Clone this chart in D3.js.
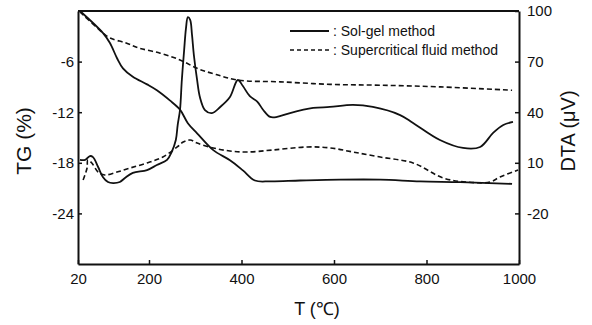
<!DOCTYPE html>
<html>
<head>
<meta charset="utf-8">
<script src="https://cdn.jsdelivr.net/npm/d3@7"></script>
<style>
  body { margin: 0; background: #fff; }
  svg { font-family: "Liberation Sans", Arial, sans-serif; }
</style>
</head>
<body>
<main></main>
<script>
// Temperature ticks (bottom axis) and the two y axes
const tempTicks = [20, 200, 400, 600, 800, 1000];
const tgTicks = [-6, -12, -18, -24];
const dtaTicks = [100, 70, 40, 10, -20];

const seriesNames = [": Sol-gel method", ": Supercritical fluid method"];

// TG curves, [T, TG %]
const solGelTG = [
  [25, 0], [83, -2.6], [101, -3.8], [119, -5.6], [134, -6.8], [159, -7.8],
  [195, -8.7], [217, -9.4], [245, -10.6], [267, -11.7], [284, -13.3],
  [304, -14.5], [339, -16.5], [375, -17.7], [403, -18.9], [429, -20.1],
  [462, -20.2], [527, -20.1], [613, -20.0], [700, -20.0], [786, -20.2],
  [873, -20.3], [985, -20.5]
];
const superTG = [
  [25, -0.1], [83, -2.6], [101, -3.2], [142, -3.8], [175, -4.4], [224, -5.0],
  [267, -5.8], [304, -6.8], [343, -7.5], [393, -8.2], [484, -8.4],
  [592, -8.7], [700, -8.8], [830, -9.0], [985, -9.4]
];

// DTA curves, [T, DTA uV]
const solGelDTA = [
  [25, 11.7], [38, 11.7], [50, 14.0], [58, 13.4], [71, 7.5], [83, 1.6],
  [96, -1.4], [109, -2.0], [126, -1.4], [139, 1.0], [159, 4.0], [195, 5.7],
  [217, 8.7], [239, 11.7], [249, 16.4], [258, 23.5], [262, 32.4], [267, 41.3],
  [271, 59.1], [276, 76.9], [280, 89.9], [284, 96.4], [289, 94.7], [293, 85.8],
  [297, 73.9], [304, 59.1], [310, 49.0], [321, 41.3], [336, 39.5], [354, 43.1],
  [375, 49.0], [392, 59.1], [403, 55.5], [418, 49.5], [434, 46.3], [447, 41.3],
  [462, 37.2], [477, 37.2], [505, 39.5], [555, 42.5], [591, 43.1], [641, 44.3],
  [684, 43.1], [743, 38.3], [771, 33.6], [829, 23.5], [879, 18.8], [916, 19.4],
  [944, 27.7], [966, 32.4], [987, 34.2]
];
const superDTA = [
  [33, -0.2], [43, 6.9], [45, 11.7], [55, 9.9], [71, 4.5], [88, 2.8],
  [119, 4.5], [152, 6.9], [195, 9.9], [230, 13.4], [261, 19.4], [274, 22.3],
  [289, 23.5], [304, 21.7], [339, 18.8], [375, 17.0], [412, 16.4], [468, 17.6],
  [542, 19.4], [592, 18.8], [641, 16.4], [700, 13.4], [771, 9.9], [836, 1.0],
  [887, -1.4], [937, -1.4], [959, 1.6], [998, 5.7]
];

const width = 592;
const height = 325;
const plotLeft = 78, plotRight = 519, plotTop = 11, plotBottom = 264;

const svg = d3
  .select("main")
  .append("svg")
  .attr("width", width)
  .attr("height", height);

// the original figure's x axis is not linear between 20 and 200
const x = d3.scaleLinear().domain([20, 200, 1000]).range([plotLeft, 149, plotRight]);
const yTG = d3.scaleLinear().domain([-30, 0]).range([plotBottom, plotTop]);
const yDTA = d3.scaleLinear().domain([-50, 100]).range([plotBottom, plotTop]);

const lineTG = d3
  .line()
  .x((d) => x(d[0]))
  .y((d) => yTG(d[1]))
  .curve(d3.curveCatmullRom.alpha(0.5));
const lineDTA = d3
  .line()
  .x((d) => x(d[0]))
  .y((d) => yDTA(d[1]))
  .curve(d3.curveCatmullRom.alpha(0.5));

const curves = svg.append("g").attr("fill", "none").attr("stroke", "#111");
curves.append("path").attr("d", lineTG(solGelTG)).attr("stroke-width", 1.8);
curves.append("path").attr("d", lineDTA(solGelDTA)).attr("stroke-width", 1.8);
curves
  .append("path")
  .attr("d", lineTG(superTG))
  .attr("stroke-width", 1.6)
  .attr("stroke-dasharray", "5,3");
curves
  .append("path")
  .attr("d", lineDTA(superDTA))
  .attr("stroke-width", 1.6)
  .attr("stroke-dasharray", "5,3");

// plain labels: hyphen minus, no thousands comma
const plain = (d) => String(d);

// axes, ticks pointing inward
const xAxis = svg
  .append("g")
  .attr("transform", `translate(0, ${plotBottom})`)
  .call(
    d3.axisBottom(x).tickValues(tempTicks).tickFormat(plain)
      .tickSize(-4).tickSizeOuter(0).tickPadding(9)
  );
const leftAxis = svg
  .append("g")
  .attr("transform", `translate(${plotLeft}, 0)`)
  .call(
    d3.axisLeft(yTG).tickValues(tgTicks).tickFormat(plain)
      .tickSize(-4).tickSizeOuter(0).tickPadding(4)
  );
const rightAxis = svg
  .append("g")
  .attr("transform", `translate(${plotRight}, 0)`)
  .call(
    d3.axisRight(yDTA).tickValues(dtaTicks).tickFormat(plain)
      .tickSize(-4).tickSizeOuter(0).tickPadding(8)
  );

[xAxis, leftAxis, rightAxis].forEach((a) => {
  a.select(".domain").attr("stroke", "#111").attr("stroke-width", 2);
  a.selectAll(".tick line").attr("stroke", "#111").attr("stroke-width", 1.5);
  a.selectAll("text")
    .attr("fill", "#111")
    .attr("font-size", 15)
    .attr("font-family", "Liberation Sans, Arial, sans-serif");
});

// top border of the frame
svg
  .append("line")
  .attr("x1", plotLeft)
  .attr("x2", plotRight)
  .attr("y1", plotTop)
  .attr("y2", plotTop)
  .attr("stroke", "#111")
  .attr("stroke-width", 2);

// legend
const legend = svg.append("g").attr("font-size", 14).attr("fill", "#111");
seriesNames.forEach((name, i) => {
  const ly = 31 + i * 19;
  legend
    .append("line")
    .attr("x1", 290)
    .attr("x2", 329)
    .attr("y1", ly)
    .attr("y2", ly)
    .attr("stroke", "#111")
    .attr("stroke-width", i === 0 ? 1.8 : 1.6)
    .attr("stroke-dasharray", i === 0 ? null : "4,3");
  legend
    .append("text")
    .attr("x", 333)
    .attr("y", ly + 5)
    .text(name);
});

// axis titles
svg
  .append("text")
  .attr("transform", "translate(31, 141) rotate(-90)")
  .attr("text-anchor", "middle")
  .attr("font-size", 21)
  .attr("fill", "#111")
  .text("TG (%)");
svg
  .append("text")
  .attr("transform", "translate(575, 131) rotate(-90)")
  .attr("text-anchor", "middle")
  .attr("font-size", 20)
  .attr("fill", "#111")
  .text("DTA (μV)");
svg
  .append("text")
  .attr("x", 317)
  .attr("y", 315)
  .attr("text-anchor", "middle")
  .attr("font-size", 18)
  .attr("fill", "#111")
  .text("T (℃)");
</script>
</body>
</html>
